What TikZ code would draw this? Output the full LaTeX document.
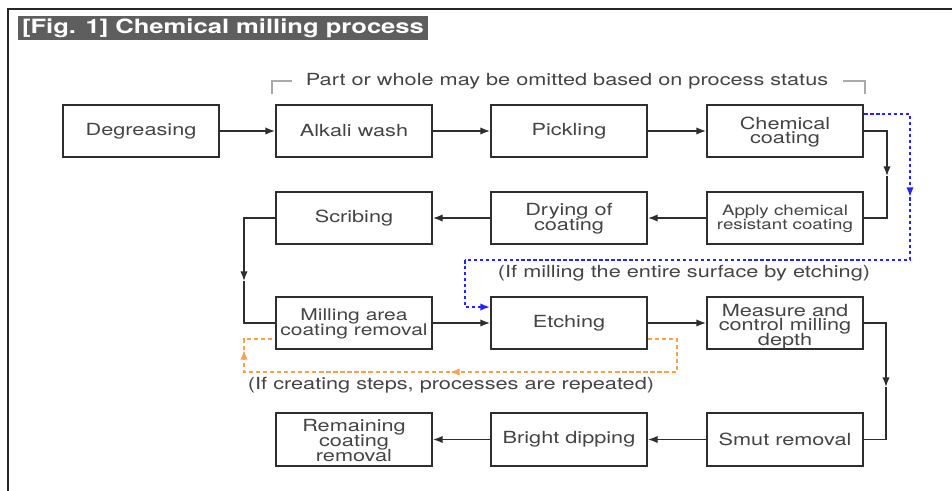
\documentclass[tikz,border=0pt]{standalone}
\usepackage{fontspec}
\setmainfont{TeX Gyre Heros}
\usepackage{graphicx}
\usetikzlibrary{arrows.meta,calc}
\definecolor{txtc}{HTML}{444444}
\definecolor{linec}{HTML}{2E2E2E}
\definecolor{titlegray}{HTML}{5E5E5E}
\definecolor{brkc}{HTML}{AAAAAA}
\definecolor{blued}{HTML}{2424FF}
\definecolor{orng}{HTML}{F7A24C}
\newcommand{\hs}[1]{\scalebox{1.3}[1]{#1}}
\newcommand{\mlx}[3]{\hs{\vbox{\kern#1\baselineskip=#2\lineskiplimit=-20pt\lineskip=0pt\halign{\hfil##\hfil\cr#3\crcr}\kern0pt}}}
\newcommand{\ml}[2][8.5pt]{\mlx{1.2pt}{#1}{#2}}
\begin{document}
\begin{tikzpicture}[x=0.02cm,y=-0.02cm,
  box/.style={draw=linec, line width=1.2pt, minimum width=3.12cm, minimum height=1.05cm, inner sep=0pt, text=txtc, font=\fontsize{9.5}{11}\selectfont},
  conn/.style={draw=linec, line width=0.8pt},
  arr/.style={-{Latex[length=5.5pt,width=4.2pt]}},
  anno/.style={text=txtc, inner sep=0pt, font=\fontsize{9.5}{11}\selectfont},
  bluel/.style={draw=blued, line width=0.9pt, dash pattern=on 2pt off 1.4pt},
  orngl/.style={draw=orng, line width=0.9pt, dash pattern=on 2.4pt off 1.6pt},
  barr/.style={-{Latex[length=5.5pt,width=4.2pt,fill=blued]}},
  oarr/.style={-{Latex[length=5.5pt,width=4.2pt,fill=orng]}}
]
\useasboundingbox (0,0) rectangle (952,490);
\fill[white] (0,0) rectangle (952,490);
% frame
\draw[line width=1.3pt, color=black!85] (8,495) -- (8,9) -- (960,9);
% title
\node[fill=titlegray, minimum width=8.2cm, minimum height=0.48cm, inner sep=0pt, text=white, font=\fontsize{11.2}{13}\selectfont\bfseries] (title) at (223,28) {\hs{[Fig. 1] Chemical milling process}};

% omission note with bracket
\node[anno] (omit) at (567,81) {\hs{Part or whole may be omitted based on process status}};
\coordinate (bl0) at (272,94);
\coordinate (bl1) at (272,81);
\coordinate (bl2) at (292,81);
\coordinate (br0) at (843,81);
\coordinate (br1) at (865,81);
\coordinate (br2) at (865,94);
\draw[draw=brkc, line width=1.2pt] (bl0) -- (bl1) -- (bl2);
\draw[draw=brkc, line width=1.2pt] (br0) -- (br1) -- (br2);

% boxes
\node[box] (deg) at (141,131) {\hs{Degreasing}};
\node[box] (alk) at (354,131) {\hs{Alkali wash}};
\node[box] (pick) at (569,131) {\hs{Pickling}};
\node[box] (chem) at (785,131) {\ml{Chemical\cr coating}};
\node[box] (scr) at (354,218) {\hs{Scribing}};
\node[box] (dry) at (569,218) {\ml{Drying of\cr coating}};
\node[box, font=\fontsize{8.2}{9}\selectfont] (app) at (785,218) {\ml[7.9pt]{Apply chemical\cr resistant coating}};
\node[box, font=\fontsize{9.2}{10}\selectfont] (mill) at (354,323) {\ml{Milling area\cr coating removal}};
\node[box] (etch) at (569,323) {\hs{Etching}};
\node[box] (meas) at (785,323) {\mlx{4pt}{8.2pt}{Measure and\cr control milling\cr depth}};
\node[box] (rem) at (354,439.5) {\ml{Remaining\cr coating\cr removal}};
\node[box] (bri) at (569,439.5) {\hs{Bright dipping}};
\node[box] (smut) at (785,439.5) {\hs{Smut removal}};

% main connectors
\draw[conn,arr] (deg.east) -- (alk.west);
\draw[conn,arr] (alk.east) -- (pick.west);
\draw[conn,arr] (pick.east) -- (chem.west);
\coordinate (k1) at (887,131);
\coordinate (k1m) at (887,176);
\draw[conn,arr] (chem.east) -- (k1) -- (k1m);
\draw[conn] (k1m) |- (app.east);
\draw[conn,arr] (app.west) -- (dry.east);
\draw[conn,arr] (dry.west) -- (scr.east);
\coordinate (k2) at (244,218);
\coordinate (k2m) at (244,281);
\draw[conn,arr] (scr.west) -- (k2) -- (k2m);
\draw[conn] (k2m) |- (mill.west);
\draw[conn,arr] (mill.east) -- (etch.west);
\draw[conn,arr] (etch.east) -- (meas.west);
\coordinate (k3) at (886,323);
\coordinate (k3m) at (886,387);
\draw[conn,arr] (meas.east) -- (k3) -- (k3m);
\draw[conn] (k3m) |- (smut.east);
\draw[conn,arr] (smut.west) -- (bri.east);
\draw[conn,arr] (bri.west) -- (rem.east);

% blue dotted bypass
\coordinate (bA) at (910,197);
\coordinate (bB) at (465,260);
\draw[bluel,barr] ($(chem.east)+(0,-17)$) -| (bA);
\draw[bluel] (bA) |- (bB);
\draw[bluel,barr] (bB) |- ($(etch.west)+(0,-16)$);
\node[anno] (lblue) at (684,273) {\hs{(If milling the entire surface by etching)}};

% orange dashed repeat loop
\coordinate (oA) at (677,372);
\coordinate (oB) at (450,372);
\coordinate (oC) at (244,372);
\coordinate (oD) at (244,350);
\draw[orngl,oarr] ($(etch.east)+(0,16)$) -| (oA) -- (oB);
\draw[orngl,oarr] (oB) -- (oC) -- (oD);
\draw[orngl] (oD) |- ($(mill.west)+(0,16)$);
\node[anno] (lorng) at (451,385) {\hs{(If creating steps, processes are repeated)}};
\end{tikzpicture}
\end{document}
